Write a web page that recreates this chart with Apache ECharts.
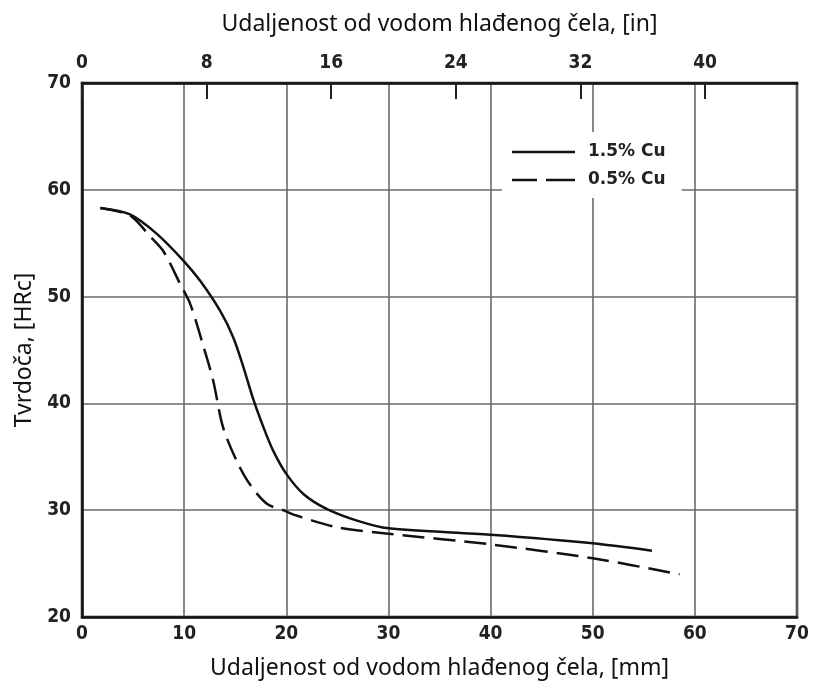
<!DOCTYPE html>
<html><head><meta charset="utf-8">
<script src="https://cdn.jsdelivr.net/npm/echarts@6/dist/echarts.min.js"></script>
<style>html,body{margin:0;padding:0;background:#fff}#c{width:813px;height:682px}</style>
</head><body><div id="c"></div>
<script>
const mmTicks = [0,10,20,30,40,50,60,70];
const inTicks = [0,8,16,24,32,40];
const hrcTicks = [20,30,40,50,60,70];
const seriesNames = ['1.5% Cu','0.5% Cu'];
const cu15X = [1.8,4.7,7.3,9.9,11.55,13.5,14.8,15.8,16.8,17.75,18.7,20.0,21.7,24.0,27.0,30.0,40.0,50.0,55.8];
const cu15Y = [58.3,57.7,55.9,53.4,51.5,48.7,46.2,43.4,40.3,37.8,35.6,33.4,31.5,30.1,29.0,28.3,27.7,26.9,26.2];
const cu05X = [1.8,4.7,6.7,8.0,9.6,10.6,11.9,12.85,13.8,15.15,16.45,18.1,19.7,21.0,25.0,30.0,40.0,50.0,58.5];
const cu05Y = [58.3,57.6,55.6,54.2,51.2,49.3,45.3,42.1,37.8,34.6,32.4,30.6,30.0,29.5,28.4,27.8,26.8,25.5,24.0];

const tickFont = {fontFamily:'"DejaVu Sans Condensed","Liberation Sans Narrow",sans-serif', fontWeight:'bold', fontSize:19, color:'#222'};
const titleFont = {fontFamily:'"Noto Sans","Open Sans",sans-serif', fontSize:23, color:'#111'};

const chart = echarts.init(document.getElementById('c'), null, {renderer:'canvas'});
chart.setOption({
  animation:false,
  backgroundColor:'#fff',
  grid:{left:82,right:16,top:83,bottom:65,outerBoundsMode:'none',containLabel:false,show:true,borderColor:'#111',borderWidth:2.5,backgroundColor:'transparent'},
  legend:{
    orient:'vertical', left:502, top:132, backgroundColor:'#fff',
    padding:[10,16,8,10], itemWidth:63, itemHeight:2.5, itemGap:8,
    textStyle:{fontFamily:'"DejaVu Sans",sans-serif', fontWeight:'bold', fontSize:17, lineHeight:20, color:'#222', padding:[0,0,0,8]},
    data:[
      {name:seriesNames[0], icon:'path://M0,0h63v2.5h-63z'},
      {name:seriesNames[1], icon:'path://M0,0h25v2.5h-25zM34,0h29v2.5h-29z'}
    ],
    itemStyle:{color:'#111'}
  },
  xAxis:[{
    type:'value', position:'bottom', min:mmTicks[0], max:mmTicks[mmTicks.length-1], interval:10,
    name:'Udaljenost od vodom hlađenog čela, [mm]', nameLocation:'middle', nameGap:40,
    nameTextStyle:titleFont,
    axisLine:{show:true,lineStyle:{color:'#111',width:2.5}},
    axisTick:{show:false},
    axisLabel:Object.assign({margin:8},tickFont),
    splitLine:{show:true,lineStyle:{color:'#6a6a6a',width:1.6}}
  },{
    type:'value', position:'top', min:0, max:45.9, interval:8,
    name:'Udaljenost od vodom hlađenog čela, [in]', nameLocation:'middle', nameGap:47,
    nameTextStyle:titleFont,
    axisLine:{show:true,lineStyle:{color:'#111',width:2.5}},
    axisTick:{show:true,inside:true,length:16,lineStyle:{color:'#222',width:2}},
    axisLabel:Object.assign({margin:10, showMaxLabel:false, formatter:function(v){return inTicks.indexOf(v)>=0? String(v):'';}},tickFont),
    splitLine:{show:false}
  }],
  yAxis:{
    type:'value', min:hrcTicks[0], max:hrcTicks[hrcTicks.length-1], interval:10,
    name:'Tvrdoča, [HRc]', nameLocation:'middle', nameGap:45, nameRotate:90,
    nameTextStyle:titleFont,
    axisLine:{show:true,lineStyle:{color:'#111',width:2.5}},
    axisTick:{show:false},
    axisLabel:Object.assign({margin:11},tickFont),
    splitLine:{show:true,lineStyle:{color:'#6a6a6a',width:1.6}}
  },
  series:[{
    name:seriesNames[0], type:'line', xAxisIndex:0, smooth:0.3, symbol:'none',
    lineStyle:{color:'#111',width:2.5,type:'solid'}, itemStyle:{color:'#111'},
    data:cu15X.map((x,i)=>[x,cu15Y[i]]), z:5
  },{
    name:seriesNames[1], type:'line', xAxisIndex:0, smooth:0.3, symbol:'none',
    lineStyle:{color:'#111',width:2.5,type:[22,9]}, itemStyle:{color:'#111'},
    data:cu05X.map((x,i)=>[x,cu05Y[i]]), z:5
  }]
});
</script></body></html>
